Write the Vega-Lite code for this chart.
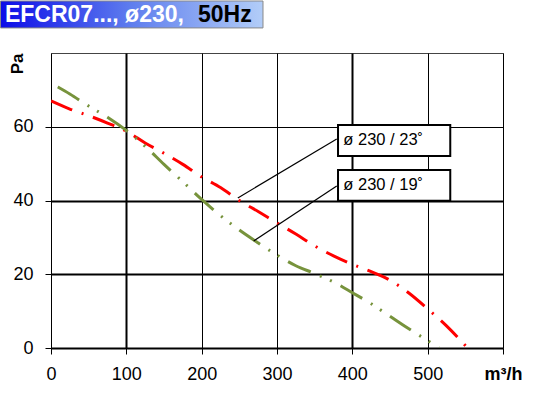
{
  "$schema": "https://vega.github.io/schema/vega-lite/v6.json",
  "background": "white",
  "padding": 0,
  "width": 452,
  "height": 295,
  "config": {"font": "Liberation Sans", "view": {"stroke": "#444", "strokeWidth": 1}},
  "datasets": {
    "curves": [
      {"s": "23", "x": 0, "y": 67}, {"s": "23", "x": 25, "y": 64.8}, {"s": "23", "x": 50, "y": 63}, {"s": "23", "x": 75, "y": 61}, {"s": "23", "x": 100, "y": 58.8}, {"s": "23", "x": 125, "y": 55.6}, {"s": "23", "x": 150, "y": 52.8}, {"s": "23", "x": 175, "y": 49.8}, {"s": "23", "x": 200, "y": 46.4}, {"s": "23", "x": 225, "y": 43.5}, {"s": "23", "x": 250, "y": 40}, {"s": "23", "x": 275, "y": 37}, {"s": "23", "x": 300, "y": 33.9}, {"s": "23", "x": 325, "y": 30.9}, {"s": "23", "x": 350, "y": 27.7}, {"s": "23", "x": 375, "y": 25}, {"s": "23", "x": 400, "y": 22.7}, {"s": "23", "x": 425, "y": 20.7}, {"s": "23", "x": 450, "y": 18.4}, {"s": "23", "x": 475, "y": 14.9}, {"s": "23", "x": 500, "y": 10.6}, {"s": "23", "x": 525, "y": 6}, {"s": "23", "x": 553, "y": 0},
      {"s": "19", "x": 9, "y": 70.8}, {"s": "19", "x": 25, "y": 68.9}, {"s": "19", "x": 50, "y": 65.6}, {"s": "19", "x": 75, "y": 62.6}, {"s": "19", "x": 100, "y": 59}, {"s": "19", "x": 125, "y": 54.7}, {"s": "19", "x": 150, "y": 49.8}, {"s": "19", "x": 175, "y": 45.1}, {"s": "19", "x": 200, "y": 40.3}, {"s": "19", "x": 225, "y": 35.9}, {"s": "19", "x": 250, "y": 32}, {"s": "19", "x": 275, "y": 28.5}, {"s": "19", "x": 300, "y": 25.2}, {"s": "19", "x": 325, "y": 22.3}, {"s": "19", "x": 350, "y": 20.2}, {"s": "19", "x": 375, "y": 17.9}, {"s": "19", "x": 400, "y": 15}, {"s": "19", "x": 425, "y": 12}, {"s": "19", "x": 450, "y": 8.6}, {"s": "19", "x": 475, "y": 5.2}, {"s": "19", "x": 500, "y": 2}, {"s": "19", "x": 515, "y": 0}
    ],
    "notes": [
      {"label": "ø 230 / 23˚", "bx": 381, "bx2": 530, "by": 52.1, "by2": 60.5, "lx": 379.3, "ly": 56.7, "px": 248, "py": 40.7, "tx": 388, "ty": 56.3},
      {"label": "ø 230 / 19˚", "bx": 381, "bx2": 530, "by": 39.9, "by2": 48.3, "lx": 379.3, "ly": 43.9, "px": 269, "py": 29, "tx": 388, "ty": 44.1}
    ]
  },
  "layer": [
    {
      "data": {"name": "curves"},
      "mark": {"type": "line", "strokeWidth": 3, "interpolate": "monotone", "clip": true},
      "encoding": {
        "x": {"field": "x", "type": "quantitative",
          "scale": {"domain": [0, 600], "nice": false},
          "axis": {"values": [0, 100, 200, 300, 400, 500, 600], "title": null,
            "labelExpr": "datum.value == 600 ? 'm³/h' : datum.label",
            "labelFontWeight": {"condition": {"test": "datum.value == 600", "value": "bold"}, "value": "normal"},
            "labelFontSize": 18, "labelColor": "black", "labelPadding": 11,
            "tickColor": "black", "tickSize": 6, "domain": false,
            "grid": true, "gridColor": "black",
            "gridWidth": {"condition": {"test": "datum.value == 100 || datum.value == 400", "value": 2}, "value": 1},
            "labelFlush": false, "labelOverlap": false}},
        "y": {"field": "y", "type": "quantitative",
          "scale": {"domain": [0, 80], "nice": false},
          "axis": {"values": [0, 20, 40, 60], "title": "Pa",
            "titleFontSize": 17, "titleFontWeight": "bold", "titleColor": "black",
            "titleAngle": -90, "titleAlign": "right", "titleBaseline": "middle", "titleX": -34, "titleY": 0,
            "labelFontSize": 18, "labelColor": "black", "labelPadding": 12,
            "tickColor": "black", "tickSize": 6, "domain": false,
            "grid": true, "gridColor": "black",
            "gridWidth": {"condition": {"test": "datum.value == 60", "value": 1}, "value": 2}}},
        "color": {"field": "s", "type": "nominal", "scale": {"domain": ["23", "19"], "range": ["#ff0000", "#77933c"]}, "legend": null},
        "strokeDash": {"field": "s", "type": "nominal", "scale": {"domain": ["23", "19"], "range": [[23, 10, 2, 10], [25, 10, 2, 9, 2, 10]]}, "legend": null}
      }
    },
    {
      "data": {"name": "notes"},
      "mark": {"type": "rule", "color": "black", "strokeWidth": 1.2},
      "encoding": {
        "x": {"field": "px", "type": "quantitative"},
        "y": {"field": "py", "type": "quantitative"},
        "x2": {"field": "lx"},
        "y2": {"field": "ly"}
      }
    },
    {
      "data": {"name": "notes"},
      "mark": {"type": "rect", "fill": "white", "stroke": "black", "strokeWidth": 2},
      "encoding": {
        "x": {"field": "bx", "type": "quantitative"},
        "x2": {"field": "bx2"},
        "y": {"field": "by", "type": "quantitative"},
        "y2": {"field": "by2"}
      }
    },
    {
      "data": {"name": "notes"},
      "mark": {"type": "text", "align": "left", "baseline": "middle", "fontSize": 16.5, "color": "black"},
      "encoding": {
        "x": {"field": "tx", "type": "quantitative"},
        "y": {"field": "ty", "type": "quantitative"},
        "text": {"field": "label"}
      }
    },
    {
      "data": {"values": [{}]},
      "mark": {"type": "rect", "clip": false, "stroke": "#888", "strokeWidth": 1,
        "color": {"gradient": "linear", "x1": 0, "x2": 1, "y1": 0, "y2": 0,
          "stops": [{"offset": 0, "color": "#0c0ce8"}, {"offset": 0.5, "color": "#5f7eee"}, {"offset": 1, "color": "#b2cdf8"}]}},
      "encoding": {
        "x": {"datum": -67}, "x2": {"datum": 281.4},
        "y": {"datum": 86.8}, "y2": {"datum": 94.1}
      }
    },
    {
      "data": {"values": [{}]},
      "mark": {"type": "text", "clip": false, "align": "left", "baseline": "middle", "fontSize": 23, "fontWeight": "bold", "color": "white"},
      "encoding": {
        "x": {"datum": -61.1}, "y": {"datum": 90.3},
        "text": {"value": "EFCR07..., ø230,"}
      }
    },
    {
      "data": {"values": [{}]},
      "mark": {"type": "text", "clip": false, "align": "left", "baseline": "middle", "fontSize": 23, "fontWeight": "bold", "color": "black"},
      "encoding": {
        "x": {"datum": 195.1}, "y": {"datum": 90.3},
        "text": {"value": "50Hz"}
      }
    }
  ]
}
